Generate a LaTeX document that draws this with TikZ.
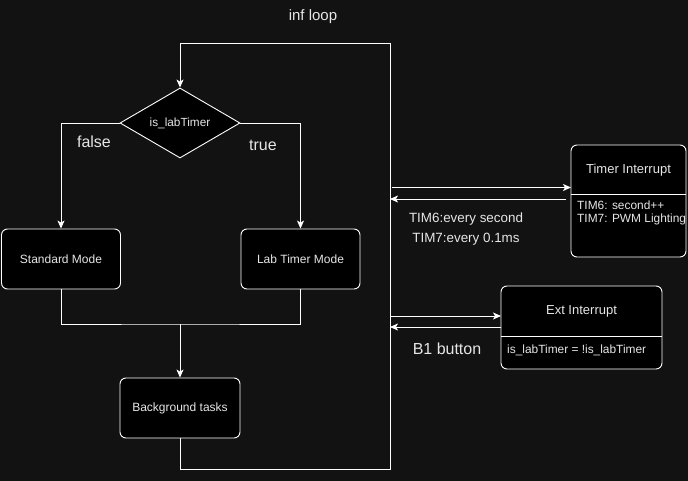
\documentclass[tikz,border=0pt]{standalone}
\usepackage{fontspec}
\setmainfont{Liberation Sans}
\usetikzlibrary{shapes.geometric,arrows.meta}
\definecolor{bg}{HTML}{121212}
\definecolor{txt}{HTML}{E6E6E6}
\tikzset{
  box/.style={draw=white, fill=black, rounded corners=6pt, line width=0.9pt, text=txt, font=\fontsize{12}{14}\selectfont, minimum width=119pt, minimum height=60pt, inner sep=0pt},
  dec/.style={diamond, draw=white, fill=black, line width=0.9pt, text=txt, font=\fontsize{11.8}{13}\selectfont, minimum width=120pt, minimum height=70pt, inner sep=0pt, aspect=1.714},
  wire/.style={draw=white, line width=0.9pt},
  arr/.style={wire, -{Stealth[length=8pt,width=7pt,inset=2pt]}},
  lbl/.style={text=txt, font=\fontsize{16}{18}\selectfont, inner sep=0pt},
  small/.style={text=txt, font=\fontsize{13.4}{15}\selectfont, inner sep=0pt, align=center},
}
\begin{document}
\begin{tikzpicture}[x=1pt,y=-1pt]
\fill[bg] (0,0) rectangle (688,481);
\useasboundingbox (0,0) rectangle (688,481);

\node[lbl, font=\fontsize{15}{17}\selectfont] (title) at (313,17) {inf loop};

\node[dec] (dec) at (180,123) {is\_labTimer};
\node[box] (std) at (61,259) {Standard Mode};
\node[box] (lab) at (300.5,259) {Lab Timer Mode};
\node[box, minimum width=120pt] (bg) at (180,408) {Background tasks};

\node[lbl] (false) at (94,142) {false};
\node[lbl] (true) at (263,145) {true};

% loop
\coordinate (ltop) at (180,43);
\coordinate (rtop) at (390,43);
\coordinate (rbot) at (390,469);
\coordinate (lbot) at (180,469);
\draw[arr] (bg.south) -- (lbot) -- (rbot) -- (rtop) -- (ltop) -- (dec.north);

% branches
\draw[arr] (dec.west) -| (std.north);
\draw[arr] (dec.east) -| (lab.north);
\coordinate (join) at (180,324);
\draw[wire] (std.south) |- (join) -| (lab.south);
\draw[arr] (join) -- (bg.north);

% Timer interrupt
\draw[draw=white, fill=black, rounded corners=6pt, line width=0.9pt] (571,145) rectangle (686,257);
\draw[white, line width=0.9pt] (571,194) -- (686,194);
\node[small, font=\fontsize{13}{15}\selectfont] (tih) at (628.5,170) {Timer Interrupt};
\node[text=txt, font=\fontsize{11.9}{13}\selectfont, inner sep=0pt, align=left, anchor=north west] (tib) at (577,201) {TIM6: second++\\TIM7: PWM Lighting};
\coordinate (ti) at (571,187.5);
\coordinate (ti2) at (566,199);
\coordinate (l1) at (392,187.5);
\coordinate (l2) at (390,199);
\draw[arr] (l1) -- (ti);
\draw[arr] (ti2) -- (l2);
\node[small] (tl1) at (466,219) {TIM6:every second};
\node[small] (tl2) at (466,239) {TIM7:every 0.1ms};

% Ext interrupt
\draw[draw=white, fill=black, rounded corners=6pt, line width=0.9pt] (501,286) rectangle (662,369);
\draw[white, line width=0.9pt] (501,336) -- (662,336);
\node[small, font=\fontsize{13}{15}\selectfont] (eih) at (581.5,311) {Ext Interrupt};
\node[text=txt, font=\fontsize{11.9}{13}\selectfont, inner sep=0pt, anchor=west] (eib) at (507,350) {is\_labTimer = !is\_labTimer};
\coordinate (ei) at (501,316);
\coordinate (ei2) at (501,327);
\coordinate (l3) at (390,316);
\coordinate (l4) at (390,327);
\draw[arr] (l3) -- (ei);
\draw[arr] (ei2) -- (l4);
\node[lbl] (b1) at (447,349) {B1 button};
\end{tikzpicture}
\end{document}
